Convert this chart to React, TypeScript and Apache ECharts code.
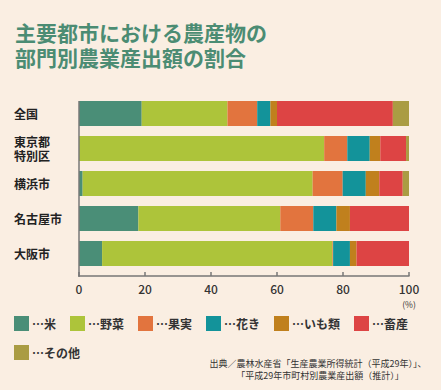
import React, { useEffect, useRef } from "react";
import * as echarts from "echarts";

const categories = ["全国", "東京都\n特別区", "横浜市", "名古屋市", "大阪市"];
const seriesNames = ["米", "野菜", "果実", "花き", "いも類", "畜産", "その他"];
const rice = [19.0, 0, 1.1, 18.0, 7.0];
const vegetables = [26.0, 74.3, 69.7, 43.0, 69.8];
const fruit = [9.0, 7.0, 9.1, 10.0, 0.2];
const flowers = [4.0, 6.8, 7.0, 7.0, 5.1];
const potatoes = [2.0, 3.2, 4.1, 4.1, 2.0];
const livestock = [35.1, 7.8, 7.1, 17.9, 15.9];
const others = [4.9, 0.9, 1.9, 0, 0];
const xTicks = [0, 20, 40, 60, 80, 100];
const colors = ["#4a8e77", "#adc43a", "#e2743e", "#13939a", "#c0801d", "#dd4444", "#aa9c43"];

const FONT = "'Noto Sans CJK JP', 'Noto Sans', sans-serif";

export default function App() {
  const ref = useRef<HTMLDivElement>(null);
  useEffect(() => {
    if (!ref.current) return;
    const chart = echarts.init(ref.current, null, { renderer: "svg" });
    const values = [rice, vegetables, fruit, flowers, potatoes, livestock, others];
    const titleStyle = {
      fontFamily: FONT,
      fontSize: 21,
      fontWeight: "bold",
      color: "#4b8c73",
    };
    chart.setOption({
      animation: false,
      backgroundColor: "#faeee2",
      textStyle: { fontFamily: FONT },
      color: colors,
      title: [
        { text: "主要都市における農産物の", left: 15, top: 21, padding: 0, textStyle: titleStyle },
        { text: "部門別農業産出額の割合", left: 15, top: 46.5, padding: 0, textStyle: titleStyle },
      ],
      grid: { left: 79, right: 32, top: 96, height: 175 },
      xAxis: {
        type: "value",
        min: 0,
        max: 100,
        interval: 20,
        offset: 5,
        splitLine: { show: false },
        axisLine: { show: true, lineStyle: { color: "#777", width: 1.5 } },
        axisTick: { show: true, inside: true, length: 4, lineStyle: { color: "#777", width: 1.5 } },
        axisLabel: {
          margin: 6,
          fontSize: 12,
          fontWeight: 500,
          color: "#333",
          fontFamily: FONT,
          formatter: (v: number) => (xTicks.includes(v) ? String(v) : ""),
        },
      },
      yAxis: {
        type: "category",
        data: categories,
        inverse: true,
        axisLine: { show: false },
        axisTick: { show: false },
        axisLabel: {
          align: "left",
          margin: 65,
          fontSize: 12,
          fontWeight: "bold",
          color: "#222",
          lineHeight: 13.5,
          fontFamily: FONT,
        },
      },
      legend: {
        left: 14,
        top: 316,
        width: 427,
        padding: 0,
        itemWidth: 15,
        itemHeight: 15,
        itemGap: 14,
        icon: "rect",
        formatter: "⋯{name}",
        textStyle: { fontSize: 12, fontWeight: "bold", color: "#333", fontFamily: FONT, padding: [0, 0, 0, -2] },
        data: seriesNames,
      },
      series: seriesNames.map((name, i) => ({
        name,
        type: "bar",
        stack: "total",
        barWidth: 25,
        data: values[i],
        itemStyle: { color: colors[i] },
      })),
      graphic: [
        {
          type: "line",
          shape: { x1: 79, y1: 101, x2: 79, y2: 277 },
          style: { stroke: "#777", lineWidth: 1.5 },
          z: 10,
        },
        {
          type: "text",
          x: 409,
          y: 304,
          style: {
            text: "(%)",
            fontSize: 8.5,
            fill: "#333",
            fontFamily: FONT,
            textAlign: "center",
            textVerticalAlign: "middle",
          },
        },
        {
          type: "text",
          x: 318,
          y: 363,
          style: {
            text: "出典／農林水産省「生産農業所得統計（平成29年）」、",
            fontSize: 9,
            fill: "#333",
            fontFamily: FONT,
            textAlign: "center",
            textVerticalAlign: "middle",
          },
        },
        {
          type: "text",
          x: 320,
          y: 375,
          style: {
            text: "「平成29年市町村別農業産出額（推計）」",
            fontSize: 9,
            fill: "#333",
            fontFamily: FONT,
            textAlign: "center",
            textVerticalAlign: "middle",
          },
        },
      ],
    });
    return () => chart.dispose();
  }, []);
  return (
    <div
      ref={ref}
      style={{ position: "fixed", left: 0, top: 0, width: 441, height: 390 }}
    />
  );
}
